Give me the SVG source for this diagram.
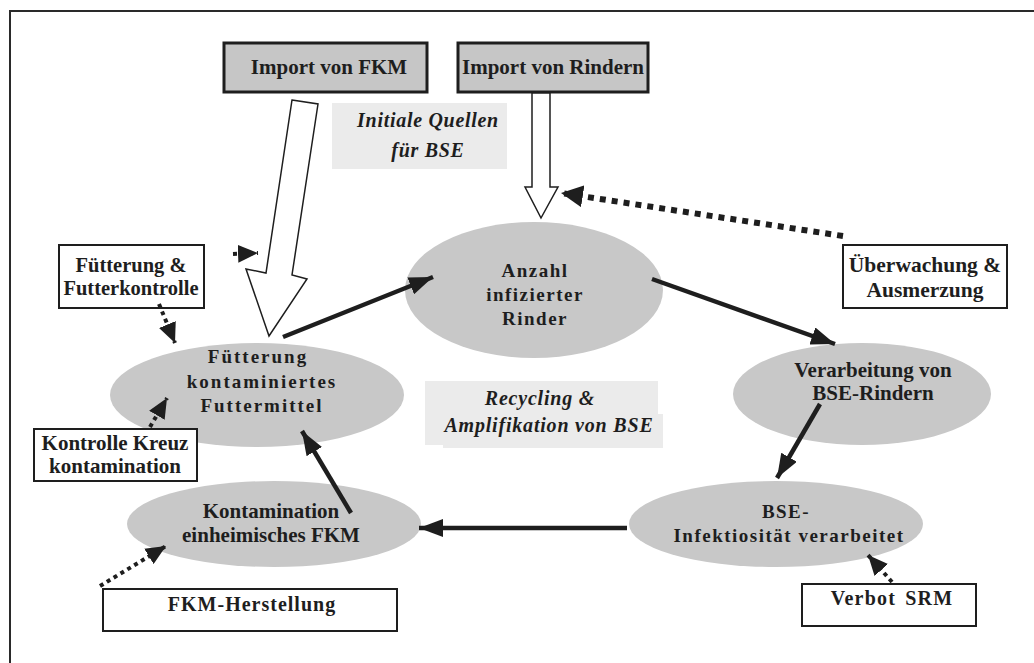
<svg xmlns="http://www.w3.org/2000/svg" width="1034" height="663" viewBox="0 0 1034 663">
<defs>
<style>
text{font-family:"Liberation Serif","Times New Roman",serif;font-weight:bold;fill:#1e1e1e;text-anchor:middle}
.it{font-style:italic}
.ell{fill:#c8c8c8}
.box{fill:#fff;stroke:#1e1e1e;stroke-width:2}
.gbox{fill:#c6c6c6;stroke:#1e1e1e;stroke-width:3}
.lab{fill:#ebebeb}
.sol{stroke:#1e1e1e;stroke-width:4.5;fill:none}
.dot{stroke:#1e1e1e;stroke-width:4;stroke-dasharray:4 4;fill:none}
.dotb{stroke:#1e1e1e;stroke-width:6;stroke-dasharray:6 6;fill:none}
.hollow{fill:#fff;stroke:#1e1e1e;stroke-width:1.5;stroke-linejoin:miter}
</style>
<marker id="ah" markerUnits="userSpaceOnUse" markerWidth="24" markerHeight="18" refX="24" refY="9" orient="auto"><path d="M0,0 L24,9 L0,18 z" fill="#1e1e1e"/></marker>
<marker id="dh" markerUnits="userSpaceOnUse" markerWidth="20" markerHeight="18" refX="20" refY="9" orient="auto"><path d="M0,0 L20,9 L0,18 z" fill="#1e1e1e"/></marker>
<marker id="bh" markerUnits="userSpaceOnUse" markerWidth="22" markerHeight="22" refX="22" refY="11" orient="auto"><path d="M0,0 L22,11 L0,22 z" fill="#1e1e1e"/></marker>
</defs>
<rect width="1034" height="663" fill="#fff"/>
<path d="M10,663 L10,11 L1034,11" fill="none" stroke="#2a2a2a" stroke-width="2"/>

<g id="label-initial">
<rect class="lab" x="332" y="103" width="175" height="66"/>
<text class="it" x="428" y="127" font-size="20" letter-spacing="0.7">Initiale Quellen</text>
<text class="it" x="428" y="157" font-size="20" letter-spacing="0.7">für BSE</text>
</g>
<g id="label-recycling">
<rect class="lab" x="425" y="381" width="233" height="64"/>
<rect class="lab" x="443" y="414" width="220" height="34"/>
<text class="it" x="540" y="405" font-size="20" letter-spacing="0.8">Recycling &amp;</text>
<text class="it" x="549" y="432" font-size="20" letter-spacing="0.8">Amplifikation von BSE</text>
</g>

<g id="import-fkm">
<rect class="gbox" x="224" y="43" width="203" height="49"/>
<text x="329" y="74" font-size="21">Import von FKM</text>
</g>
<g id="import-rindern">
<rect class="gbox" x="458" y="43" width="190" height="49"/>
<text x="553" y="74" font-size="21">Import von Rindern</text>
</g>

<g id="anzahl">
<ellipse class="ell" cx="534" cy="290" rx="129" ry="68"/>
<text x="535" y="277" font-size="19" letter-spacing="1.5">Anzahl</text>
<text x="535" y="301" font-size="19" letter-spacing="1.5">infizierter</text>
<text x="535" y="325" font-size="19" letter-spacing="1.5">Rinder</text>
</g>
<g id="fuetterung">
<ellipse class="ell" cx="257" cy="395" rx="147" ry="52"/>
<text x="258" y="363" font-size="19" letter-spacing="2">Fütterung</text>
<text x="262" y="388" font-size="19" letter-spacing="2">kontaminiertes</text>
<text x="262" y="412" font-size="19" letter-spacing="2">Futtermittel</text>
</g>
<g id="verarbeitung">
<ellipse class="ell" cx="862" cy="394" rx="129" ry="51"/>
<text x="873" y="377" font-size="21">Verarbeitung von</text>
<text x="873" y="400" font-size="21">BSE-Rindern</text>
</g>
<g id="infektiositaet">
<ellipse class="ell" cx="776" cy="524" rx="147" ry="43"/>
<text x="786" y="518" font-size="19" letter-spacing="1.5">BSE-</text>
<text x="789" y="542" font-size="19" letter-spacing="1.5">Infektiosität verarbeitet</text>
</g>
<g id="kontamination">
<ellipse class="ell" cx="274" cy="524" rx="147" ry="43"/>
<text x="271" y="518" font-size="21">Kontamination</text>
<text x="271" y="542" font-size="21">einheimisches FKM</text>
</g>

<g id="ueberwachung">
<rect class="box" x="843" y="245" width="164" height="63"/>
<text x="925" y="272" font-size="21.5">Überwachung &amp;</text>
<text x="925" y="297" font-size="21.5">Ausmerzung</text>
</g>
<g id="futterkontrolle">
<rect class="box" x="59" y="245" width="145" height="63"/>
<text x="131" y="272" font-size="20.5">Fütterung &amp;</text>
<text x="131" y="295" font-size="20.5">Futterkontrolle</text>
</g>
<g id="kreuzkontamination">
<rect class="box" x="34" y="429" width="163" height="52"/>
<text x="115" y="450" font-size="21">Kontrolle Kreuz</text>
<text x="115" y="473" font-size="21">kontamination</text>
</g>
<g id="fkm-herstellung">
<rect class="box" x="103" y="589" width="294" height="42"/>
<text x="252" y="611" font-size="20" letter-spacing="1">FKM-Herstellung</text>
</g>
<g id="verbot-srm">
<rect class="box" x="802" y="584" width="174" height="42"/>
<text x="892" y="605" font-size="20" letter-spacing="1.2" word-spacing="3">Verbot SRM</text>
</g>

<g id="connectors">
<polygon class="hollow" points="292,100 318,104 292,275 307,279 269,336 246,269 266,273"/>
<polygon class="hollow" points="532,93 550,93 550,187 558,187 541,218 525,187 532,187"/>
<line class="sol" x1="283" y1="337" x2="433" y2="277" marker-end="url(#ah)"/>
<line class="sol" x1="652" y1="279" x2="835" y2="344" marker-end="url(#ah)"/>
<line class="sol" x1="820" y1="404" x2="777" y2="478" marker-end="url(#ah)"/>
<line class="sol" x1="627" y1="528" x2="419" y2="528" marker-end="url(#ah)"/>
<line class="sol" x1="351" y1="513" x2="302" y2="431" marker-end="url(#ah)"/>
<line class="dotb" x1="843" y1="236" x2="561" y2="193" marker-end="url(#bh)"/>
<line class="dot" x1="159" y1="304" x2="175" y2="343" marker-end="url(#dh)"/>
<line class="dot" x1="150" y1="427" x2="167" y2="398" marker-end="url(#dh)"/>
<line class="dot" x1="100" y1="586" x2="166" y2="546" marker-end="url(#dh)"/>
<line class="dot" x1="892" y1="582" x2="868" y2="555" marker-end="url(#dh)"/>
<line class="dot" x1="233" y1="254" x2="258" y2="253" marker-end="url(#dh)"/>
</g>
</svg>
